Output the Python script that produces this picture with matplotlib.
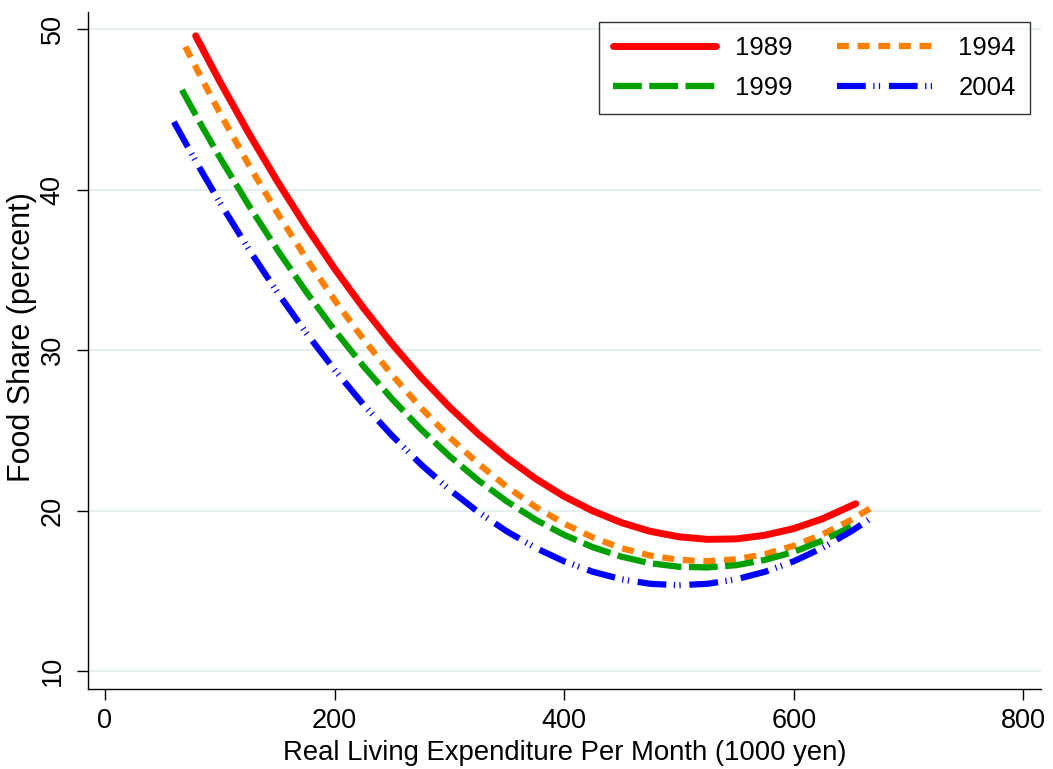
import matplotlib
matplotlib.use("Agg")
import matplotlib.pyplot as plt

plt.rcParams['font.family'] = ['Liberation Sans', 'DejaVu Sans']

# Food share curves (x in 1000 yen, y in percent)
x_1989 = [79, 100, 125, 150, 175, 200, 225, 250, 275, 300, 325, 350, 375, 400,
          425, 450, 475, 500, 525, 550, 575, 600, 625, 654]
y_1989 = [49.60, 46.76, 43.56, 40.55, 37.73, 35.09, 32.65, 30.40, 28.34, 26.47,
          24.79, 23.30, 22.00, 20.89, 19.98, 19.25, 18.71, 18.37, 18.21, 18.24,
          18.47, 18.88, 19.49, 20.43]

x_1994 = [70, 85, 100, 125, 150, 175, 200, 225, 250, 275, 300, 325, 350, 375, 400,
          425, 450, 475, 500, 525, 550, 575, 600, 625, 650, 670]
y_1994 = [48.93, 46.83, 44.81, 41.59, 38.58, 35.75, 33.13, 30.70, 28.47, 26.43,
          24.59, 22.94, 21.49, 20.24, 19.19, 18.33, 17.66, 17.20, 16.93, 16.85,
          16.97, 17.29, 17.81, 18.52, 19.42, 20.29]

x_1999 = [67, 85, 100, 125, 150, 175, 200, 225, 250, 275, 300, 325, 350, 375, 400,
          425, 450, 475, 500, 525, 550, 575, 600, 625, 650]
y_1999 = [46.23, 43.90, 42.03, 39.06, 36.28, 33.67, 31.25, 29.02, 26.97, 25.09,
          23.41, 21.90, 20.58, 19.44, 18.49, 17.72, 17.13, 16.72, 16.50, 16.46,
          16.60, 16.93, 17.43, 18.13, 19.00]

x_2004 = [60, 80, 100, 125, 150, 175, 200, 225, 250, 275, 300, 325, 350, 375, 400,
          425, 450, 475, 500, 525, 550, 575, 600, 625, 650, 668]
y_2004 = [44.24, 41.67, 39.22, 36.33, 33.63, 31.11, 28.78, 26.63, 24.68, 22.90,
          21.32, 19.92, 18.71, 17.68, 16.84, 16.19, 15.72, 15.44, 15.35, 15.44,
          15.72, 16.19, 16.84, 17.68, 18.71, 19.56]

x_ticks = [0, 200, 400, 600, 800]
y_ticks = [10, 20, 30, 40, 50]

fig = plt.figure(figsize=(10.53, 7.69), dpi=100)
ax = fig.add_axes([88 / 1053, 80 / 769, (1041 - 88) / 1053, (689 - 12) / 769])

l89, = ax.plot(x_1989, y_1989, color='#ff0000', lw=5.0, solid_capstyle='round',
               label='1989')
l94, = ax.plot(x_1994, y_1994, color='#ff8000', lw=4.5, dashes=(1.9, 1.4),
               dash_capstyle='butt', label='1994')
l99, = ax.plot(x_1999, y_1999, color='#00a000', lw=4.5, dashes=(4.6, 1.2),
               dash_capstyle='butt', label='1999')
l04, = ax.plot(x_2004, y_2004, color='#0000ff', lw=4.5,
               dashes=(4.6, 1.2, 0.2, 0.7, 0.2, 1.4), dash_capstyle='butt',
               label='2004')

ax.set_xlim(-14.8, 815.4)
ax.set_ylim(8.88, 51.09)
ax.set_xticks(x_ticks)
ax.set_yticks(y_ticks)
ax.tick_params(axis='both', direction='out', length=8, width=1.0, labelsize=19.5,
               color='black')
ax.tick_params(axis='x', pad=6)
ax.tick_params(axis='y', pad=8)
for lab in ax.get_yticklabels():
    lab.set_rotation(90)
    lab.set_va('center')

ax.grid(axis='y', color='#e6eef0', lw=1.6)
ax.set_axisbelow(True)
ax.spines['top'].set_visible(False)
ax.spines['right'].set_visible(False)
ax.spines['left'].set_linewidth(1.0)
ax.spines['bottom'].set_linewidth(1.0)

ax.set_xlabel('Real Living Expenditure Per Month (1000 yen)', fontsize=19.8, labelpad=4)
ax.set_ylabel('Food Share (percent)', fontsize=22)
ax.yaxis.set_label_coords(-0.054, 0.52)

# row 1: 1989, 1994 / row 2: 1999, 2004
leg = ax.legend([l89, l99, l94, l04], ['1989', '1999', '1994', '2004'], ncol=2,
                loc='upper right', bbox_to_anchor=(0.9885, 0.985),
                fontsize=18.5, frameon=True, fancybox=False, handlelength=4.0,
                handletextpad=0.72, columnspacing=1.75, labelspacing=0.6,
                borderpad=0.55, borderaxespad=0)
leg.get_frame().set_edgecolor('black')
leg.get_frame().set_linewidth(1.0)

fig.savefig('out.png', dpi=100)
